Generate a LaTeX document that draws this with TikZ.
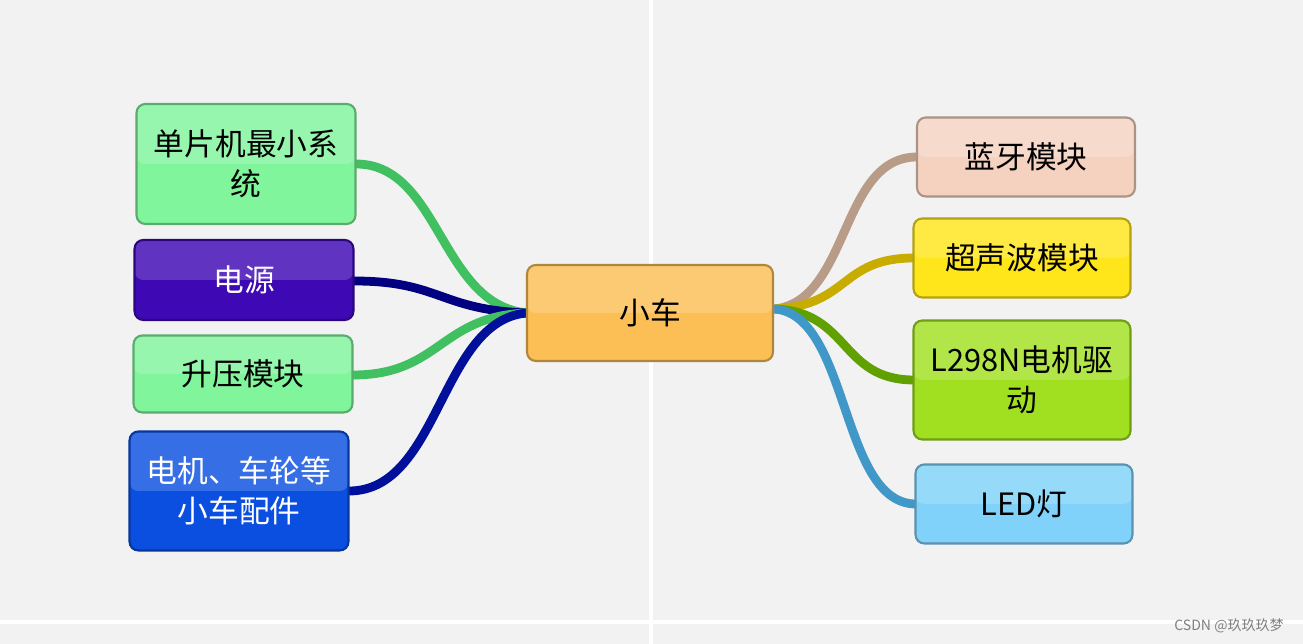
\documentclass[tikz,border=0pt]{standalone}
\usepackage{fontspec}
\setmainfont{Noto Sans CJK SC}
\begin{document}
\begin{tikzpicture}[x=0.02cm,y=-0.02cm,
 box/.style={rounded corners=5pt,draw=#1!70!black,line width=1.2pt,fill=#1,align=center,font=\fontsize{17.5}{23}\selectfont,inner sep=2pt,
  path picture={\fill[white,opacity=.18] (path picture bounding box.north west) rectangle (path picture bounding box.east);}},
 lk/.style={line width=5pt,draw=#1,line cap=round}]
\definecolor{bg}{HTML}{F2F2F2}
\definecolor{cOr}{HTML}{FBBF55}
\definecolor{cGr}{HTML}{80F59C}
\definecolor{cPu}{HTML}{3E08B4}
\definecolor{cBl}{HTML}{0A4FE0}
\definecolor{cPe}{HTML}{F5D2C0}
\definecolor{cYe}{HTML}{FFE61A}
\definecolor{cLi}{HTML}{A0E020}
\definecolor{cSk}{HTML}{80D2FA}
\definecolor{lGr}{HTML}{40C060}
\definecolor{lNa}{HTML}{000080}
\definecolor{lDb}{HTML}{00109A}
\definecolor{lTa}{HTML}{B89C88}
\definecolor{lOl}{HTML}{C8AC00}
\definecolor{lLi}{HTML}{60A000}
\definecolor{lSk}{HTML}{4098C8}
\fill[bg] (0,0) rectangle (1303,644);
\fill[white] (649,0) rectangle (653,644);
\fill[white] (0,620) rectangle (1303,624);
\useasboundingbox (0,0) rectangle (1303,644);
\coordinate (cl) at (527,313);
\coordinate (cr) at (775,309);
% connectors
\draw[lk=lGr] (356,164) .. controls (440,164) and (440,305) .. (cl);
\draw[lk=lNa] (354,281) .. controls (440,281) and (440,310) .. (cl);
\draw[lk=lGr] (353,375) .. controls (440,375) and (440,316) .. (cl);
\draw[lk=lDb] (349,491) .. controls (440,491) and (440,320) .. (cl);
\draw[lk=lTa] (cr) .. controls (850,300) and (840,157) .. (917,157);
\draw[lk=lOl] (cr) .. controls (850,305) and (840,258) .. (914,258);
\draw[lk=lLi] (cr) .. controls (850,312) and (840,380) .. (914,380);
\draw[lk=lSk] (cr) .. controls (850,316) and (840,504) .. (916,504);
% nodes
\node[box=cOr,minimum width=4.92cm,minimum height=1.92cm] (car) at (650,313) {小车};
\node[box=cGr,minimum width=4.38cm,minimum height=2.4cm] (mcu) at (246,164) {单片机最小系\\统};
\node[box=cPu,text=white,minimum width=4.38cm,minimum height=1.6cm] (pwr) at (244,280) {电源};
\node[box=cGr,minimum width=4.38cm,minimum height=1.54cm] (boost) at (243,374) {升压模块};
\node[box=cBl,text=white,minimum width=4.38cm,minimum height=2.38cm] (motor) at (239,491) {电机、车轮等\\小车配件};
\node[box=cPe,minimum width=4.36cm,minimum height=1.58cm] (bt) at (1026,157) {蓝牙模块};
\node[box=cYe,minimum width=4.34cm,minimum height=1.58cm] (us) at (1022,258) {超声波模块};
\node[box=cLi,minimum width=4.34cm,minimum height=2.38cm] (drv) at (1022,380) {L298N电机驱\\动};
\node[box=cSk,minimum width=4.34cm,minimum height=1.58cm] (led) at (1024,504) {LED灯};
\node[font=\fontsize{8}{10}\selectfont,text=gray,anchor=east] (wm) at (1290,626) {CSDN @玖玖玖梦};
\end{tikzpicture}
\end{document}
